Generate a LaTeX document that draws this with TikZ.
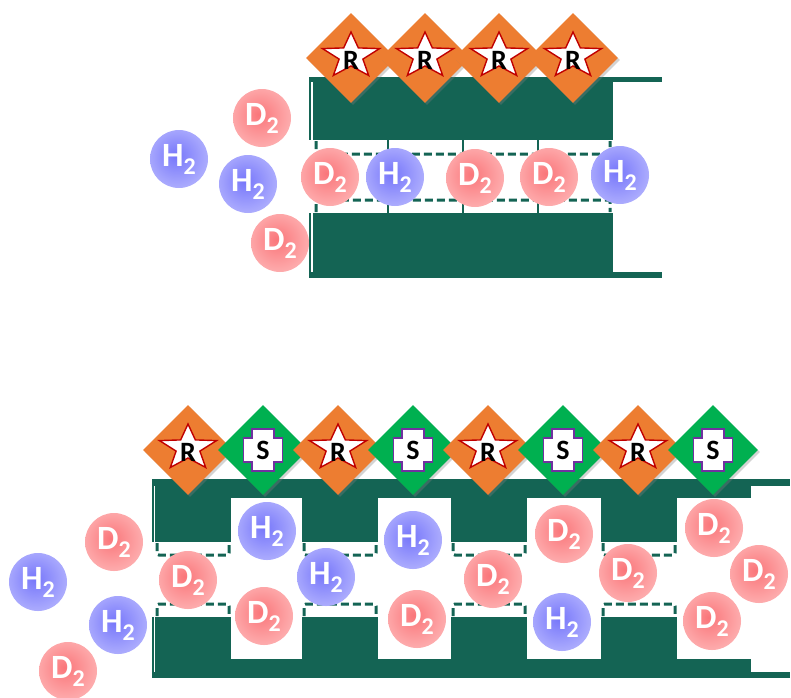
\documentclass[tikz,border=0pt]{standalone}
\usepackage{fontspec}
\newfontfamily\labelfont{Carlito}
\usetikzlibrary{shapes.geometric,shadows,positioning}

\definecolor{wallgreen}{RGB}{20,100,84}
\definecolor{rorange}{RGB}{237,125,49}
\definecolor{sgreen}{RGB}{0,176,80}
\definecolor{starred}{RGB}{192,0,0}
\definecolor{crosspurple}{RGB}{112,48,160}
\definecolor{dcore}{RGB}{250,118,122}
\definecolor{dedge}{RGB}{255,196,196}
\definecolor{hcore}{RGB}{118,118,250}
\definecolor{hedge}{RGB}{196,196,255}

\pgfdeclareradialshading{dgas}{\pgfpoint{-3bp}{3bp}}{color(0bp)=(dcore); color(38bp)=(dedge); color(47bp)=(dedge); color(50bp)=(dedge!70!white)}
\pgfdeclareradialshading{hgas}{\pgfpoint{-3bp}{3bp}}{color(0bp)=(hcore); color(38bp)=(hedge); color(47bp)=(hedge); color(50bp)=(hedge!70!white)}

\newcommand{\gasfont}{\labelfont\bfseries\fontsize{34pt}{34pt}\selectfont}
\newcommand{\subfont}{\labelfont\bfseries\fontsize{24pt}{24pt}\selectfont}
\newcommand{\tagfont}{\labelfont\bfseries\fontsize{28pt}{28pt}\selectfont}
\newcommand{\gas}[1]{{\gasfont #1\raisebox{-8pt}{\subfont 2}}}

\tikzset{
  wall/.style={fill=wallgreen},
  pore/.style={draw=wallgreen, line width=3pt, dash pattern=on 8pt off 4pt, rounded corners=2pt},
  gas/.style={circle, minimum size=58pt, inner sep=0pt, text=white},
  dmol/.style={gas, shading=dgas},
  hmol/.style={gas, shading=hgas},
  tile/.style={diamond, minimum width=90pt, minimum height=90pt, inner sep=0pt,
    drop shadow={shadow xshift=2pt, shadow yshift=-2pt, opacity=0.35}},
  rtile/.style={tile, fill=rorange},
  stile/.style={tile, fill=sgreen},
  badge/.style={fill=white, line width=1.4pt, line join=miter},
  tag/.style={inner sep=0pt},
  rbadge/.pic={
    \draw[badge, draw=starred] (-90:30 and 24)
      \foreach \k in {0,...,4} { -- (-54+72*\k:12.5 and 10) -- (-18+72*\k:30 and 24) } -- cycle;
  },
  sbadge/.pic={
    \draw[badge, draw=crosspurple] (-11,-21) -- (11,-21) -- (11,-12) -- (19.5,-12)
      -- (19.5,12) -- (11,12) -- (11,21) -- (-11,21) -- (-11,12) -- (-19.5,12)
      -- (-19.5,-12) -- (-11,-12) -- cycle;
  },
}

\begin{document}
\begin{tikzpicture}[x=1pt, y=-1pt]
  \useasboundingbox (0,0) rectangle (791,697);

  % upper channel
  \fill[wall] (313,77) rectangle (613,140);
  \fill[wall] (309,77) rectangle (662,82);
  \fill[wall] (309,82) rectangle (311,140);
  \fill[wall] (313,213) rectangle (613,278);
  \fill[wall] (309,272) rectangle (662,278);
  \fill[wall] (309,213) rectangle (311,272);
  \foreach \x in {388,463,538}
    \draw[wallgreen, line width=1.5pt] (\x,140) -- (\x,213);
  \draw[pore] (316,141) -- (316,154) -- (610,154) -- (610,141);
  \draw[pore] (316,212) -- (316,200) -- (610,200) -- (610,212);

  \foreach \x [count=\i] in {351,425,499,573} {
    \node[rtile] (tr\i) at (\x,58) {};
    \pic at ([yshift=2pt]tr\i) {rbadge};
    \node[tag] (trl\i) at ([yshift=-2pt]tr\i) {\tagfont R};
  }

  % lower channel
  \fill[wall] (152,479) rectangle (790,486);
  \fill[wall] (155,479) rectangle (751,498);
  \fill[wall] (155,659) rectangle (751,678);
  \fill[wall] (152,672) rectangle (790,678);
  \fill[wall] (152,479) rectangle (154,542);
  \fill[wall] (152,617) rectangle (154,678);
  \foreach \a/\b in {155/231,302/378,451/527,601/677} {
    \fill[wall] (\a,479) rectangle (\b,542);
    \fill[wall] (\a,617) rectangle (\b,678);
    \draw[pore] (\a+2,543) -- (\a+2,555) -- (\b-2,555) -- (\b-2,543);
    \draw[pore] (\a+2,616) -- (\a+2,604) -- (\b-2,604) -- (\b-2,616);
  }

  \foreach \i [evaluate=\i as \rx using 38+150*\i,
               evaluate=\i as \sx using 113+150*\i] in {1,...,4} {
    \node[rtile] (br\i) at (\rx,450) {};
    \pic at ([yshift=2pt]br\i) {rbadge};
    \node[tag] (brl\i) at ([yshift=-2pt]br\i) {\tagfont R};
    \node[stile] (bs\i) at (\sx,450) {};
    \pic at (bs\i) {sbadge};
    \node[tag] (bsl\i) at (bs\i) {\tagfont S};
  }

  % molecules
  \foreach \p [count=\i] in {(262,118),(280,243),(330,177),(475,178),(549,177)}
    \node[dmol] (td\i) at \p {\gas{D}};
  \foreach \p [count=\i] in {(179,159),(248,184),(395,177),(620,175)}
    \node[hmol] (th\i) at \p {\gas{H}};
  \foreach \p [count=\i] in {(114,542),(68,671),(188,580),(264,616),(417,619),(493,579),
      (564,534),(628,573),(714,528),(759,574),(712,621)}
    \node[dmol] (bd\i) at \p {\gas{D}};
  \foreach \p [count=\i] in {(38,582),(118,625),(267,531),(326,577),(413,540),(562,622)}
    \node[hmol] (bh\i) at \p {\gas{H}};
\end{tikzpicture}
\end{document}
